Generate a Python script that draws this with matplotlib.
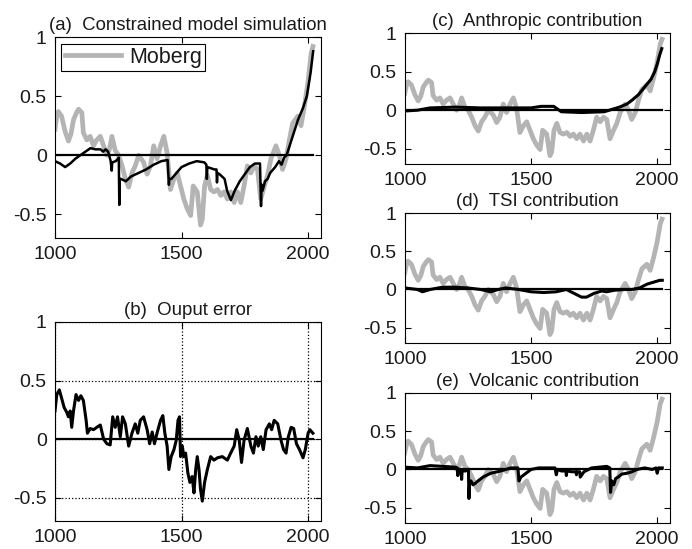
import numpy as np
import matplotlib
matplotlib.use('Agg')
import matplotlib.pyplot as plt

plt.rcParams['font.family'] = ['Liberation Sans', 'DejaVu Sans']

# Moberg reconstruction (grey)
mob_years = [1000, 1007, 1013, 1026, 1040, 1053, 1063, 1073, 1085, 1093, 1106, 1112,
             1126, 1139, 1152, 1165, 1179, 1192, 1205, 1215, 1225, 1238, 1251, 1265,
             1278, 1291, 1304, 1317, 1331, 1350, 1364, 1377, 1390, 1403, 1417, 1430,
             1443, 1456, 1470, 1483, 1496, 1509, 1522, 1536, 1546, 1562, 1575, 1582,
             1591, 1602, 1615, 1628, 1642, 1655, 1668, 1681, 1694, 1708, 1721, 1734,
             1747, 1760, 1774, 1787, 1800, 1813, 1827, 1840, 1853, 1873, 1886, 1899,
             1913, 1926, 1939, 1959, 1972, 1985, 1999, 2012, 2019]
mob_vals = [0.22, 0.33, 0.37, 0.33, 0.20, 0.12, 0.18, 0.30, 0.36, 0.39, 0.36, 0.19,
            0.13, 0.16, 0.08, 0.13, 0.16, 0.08, 0.00, 0.05, 0.16, 0.04, 0.00, -0.09,
            -0.20, -0.27, -0.15, -0.09, 0.00, -0.06, -0.16, -0.09, 0.08, -0.03, 0.08, 0.16,
            0.02, -0.29, -0.20, -0.15, -0.26, -0.37, -0.45, -0.51, -0.26, -0.31, -0.59, -0.54,
            -0.26, -0.17, -0.29, -0.31, -0.29, -0.34, -0.31, -0.37, -0.31, -0.40, -0.31, -0.40,
            -0.26, -0.09, -0.15, -0.09, -0.12, -0.37, -0.26, -0.17, -0.03, 0.08, 0.00, -0.12,
            -0.03, 0.13, 0.27, 0.33, 0.25, 0.41, 0.61, 0.86, 0.92]

# (a) constrained model simulation
sim_years = [1000, 1020, 1040, 1060, 1080, 1100, 1120, 1140, 1160, 1180, 1190, 1200,
             1210, 1220, 1224, 1226, 1240, 1252, 1254, 1256, 1260, 1280, 1300, 1330,
             1360, 1390, 1420, 1445, 1450, 1452, 1460, 1480, 1500, 1530, 1560, 1590,
             1598, 1600, 1602, 1630, 1638, 1640, 1642, 1650, 1670, 1680, 1695, 1710,
             1730, 1750, 1770, 1790, 1810, 1814, 1816, 1820, 1830, 1840, 1850, 1870,
             1885, 1895, 1905, 1915, 1930, 1945, 1960, 1980, 1995, 2010, 2020]
sim_vals = [-0.05, -0.07, -0.10, -0.07, -0.03, 0.00, 0.03, 0.06, 0.05, 0.05, 0.03, 0.05,
            0.03, -0.05, -0.13, -0.06, -0.05, -0.02, -0.42, -0.20, -0.20, -0.22, -0.18, -0.15,
            -0.12, -0.08, -0.05, -0.04, -0.25, -0.20, -0.20, -0.15, -0.10, -0.07, -0.05, -0.06,
            -0.08, -0.20, -0.10, -0.12, -0.12, -0.23, -0.15, -0.16, -0.20, -0.30, -0.38, -0.30,
            -0.22, -0.16, -0.10, -0.07, -0.07, -0.43, -0.25, -0.30, -0.22, -0.20, -0.15, -0.10,
            -0.05, -0.08, -0.02, 0.00, 0.10, 0.20, 0.30, 0.40, 0.50, 0.70, 0.88]

# (b) output error
err_years = [1000, 1007, 1017, 1026, 1036, 1046, 1053, 1060, 1066, 1073, 1083, 1093,
             1102, 1112, 1123, 1128, 1139, 1152, 1165, 1179, 1192, 1205, 1218, 1228,
             1238, 1247, 1258, 1267, 1278, 1291, 1304, 1317, 1327, 1337, 1350, 1364,
             1374, 1384, 1393, 1403, 1417, 1426, 1434, 1443, 1450, 1459, 1470, 1479,
             1486, 1492, 1496, 1503, 1509, 1516, 1525, 1533, 1542, 1549, 1556, 1562,
             1569, 1575, 1582, 1591, 1602, 1615, 1628, 1642, 1661, 1681, 1694, 1708,
             1718, 1728, 1737, 1747, 1760, 1774, 1784, 1794, 1803, 1813, 1823, 1834,
             1847, 1856, 1866, 1880, 1893, 1903, 1913, 1922, 1933, 1943, 1954, 1966,
             1980, 1989, 2000, 2007, 2019]
err_vals = [0.24, 0.38, 0.42, 0.35, 0.27, 0.23, 0.19, 0.24, 0.10, 0.24, 0.38, 0.33,
            0.37, 0.33, 0.16, 0.05, 0.09, 0.08, 0.10, 0.12, 0.00, -0.04, -0.05, 0.19,
            0.10, 0.19, 0.02, 0.19, 0.13, -0.06, 0.05, 0.13, 0.05, 0.16, 0.19, 0.08,
            -0.04, 0.06, -0.04, 0.05, 0.16, 0.20, 0.05, -0.06, -0.26, -0.15, -0.09, -0.01,
            0.16, 0.19, -0.15, -0.06, -0.15, -0.12, -0.29, -0.37, -0.32, -0.46, -0.26, -0.15,
            -0.26, -0.43, -0.53, -0.37, -0.26, -0.15, -0.18, -0.16, -0.15, -0.18, -0.12, -0.06,
            0.08, -0.01, -0.20, -0.01, 0.09, -0.06, -0.12, 0.02, -0.06, 0.02, -0.09, 0.08,
            0.13, 0.08, 0.16, 0.13, -0.01, -0.09, -0.12, 0.02, 0.10, 0.09, -0.04, -0.09,
            -0.16, -0.09, 0.05, 0.08, 0.05]

# (c) anthropic contribution
ant_years = [1000, 1050, 1100, 1200, 1300, 1400, 1500, 1540, 1590, 1620, 1700, 1790,
             1820, 1850, 1880, 1900, 1925, 1950, 1975, 1990, 2000, 2010, 2018]
ant_vals = [-0.01, 0.00, 0.03, 0.04, 0.03, 0.03, 0.03, 0.05, 0.05, -0.02, -0.03, -0.02,
            0.01, 0.04, 0.08, 0.13, 0.20, 0.30, 0.40, 0.50, 0.60, 0.72, 0.80]

# (d) TSI contribution
tsi_years = [1000, 1050, 1070, 1100, 1150, 1200, 1250, 1300, 1340, 1370, 1400, 1450,
             1500, 1550, 1600, 1640, 1670, 1700, 1720, 1750, 1780, 1800, 1830, 1870,
             1900, 1930, 1960, 1990, 2010, 2020]
tsi_vals = [0.02, 0.00, -0.03, 0.00, 0.03, 0.03, 0.02, 0.00, -0.03, 0.00, 0.02, 0.00,
            -0.03, -0.04, -0.03, 0.00, -0.05, -0.10, -0.10, -0.05, -0.02, -0.03, -0.01, 0.00,
            0.00, 0.02, 0.07, 0.10, 0.12, 0.12]

# (e) volcanic contribution
vol_years = [1000, 1050, 1100, 1150, 1200, 1208, 1210, 1212, 1223, 1225, 1227, 1240,
             1252, 1254, 1257, 1262, 1270, 1280, 1290, 1310, 1340, 1380, 1420, 1448,
             1452, 1460, 1480, 1500, 1530, 1595, 1600, 1605, 1620, 1638, 1640, 1642,
             1660, 1678, 1680, 1682, 1693, 1695, 1710, 1740, 1800, 1812, 1815, 1820,
             1828, 1835, 1845, 1860, 1880, 1900, 1920, 1950, 1980, 1995, 2000, 2005,
             2020]
vol_vals = [0.03, 0.02, 0.05, 0.04, 0.03, 0.02, -0.08, 0.00, 0.00, -0.13, -0.02, -0.02,
            0.00, -0.38, -0.15, -0.15, -0.20, -0.18, -0.15, -0.10, -0.05, -0.02, 0.02, 0.02,
            -0.15, -0.10, -0.05, 0.00, 0.02, 0.02, -0.07, 0.00, -0.02, -0.02, -0.08, -0.02,
            -0.03, -0.03, -0.07, -0.03, -0.03, -0.10, -0.03, 0.02, 0.04, 0.02, -0.30, -0.15,
            -0.20, -0.12, -0.10, -0.06, -0.05, -0.03, 0.00, 0.02, 0.00, 0.02, -0.05, 0.02,
            0.02]

grey = '#b4b4b4'
txt = '#1a1a1a'
xticks = [1000, 1500, 2000]
yticks = [-0.5, 0, 0.5, 1]
ytick_labels = ['-0.5', '0', '0.5', '1']


def style(ax, title):
    ax.set_xlim(1000, 2050)
    ax.set_ylim(-0.7, 1)
    ax.set_xticks(xticks)
    ax.set_yticks(yticks)
    ax.set_yticklabels(ytick_labels)
    ax.tick_params(direction='in', top=True, right=True, labelsize=14,
                   length=4, width=0.8, pad=6, labelcolor=txt)
    ax.set_title(title, fontsize=13.4, pad=5, color=txt)
    for s in ax.spines.values():
        s.set_linewidth(0.8)
    ax.plot([1000, 2020], [0, 0], color='k', lw=1.6, zorder=3)


fig = plt.figure(figsize=(6.92, 5.49), dpi=100)

ax_a = fig.add_axes([0.0795, 0.5665, 0.384, 0.366])
ax_b = fig.add_axes([0.0795, 0.051, 0.384, 0.3625])
ax_c = fig.add_axes([0.585, 0.701, 0.383, 0.2386])
ax_d = fig.add_axes([0.585, 0.3752, 0.383, 0.2368])
ax_e = fig.add_axes([0.585, 0.0474, 0.383, 0.2368])

# (a)
style(ax_a, '(a)  Constrained model simulation')
ax_a.plot(mob_years, mob_vals, color=grey, lw=3.4, label='Moberg', zorder=1)
ax_a.plot(sim_years, sim_vals, color='k', lw=1.8, zorder=4)
leg = ax_a.legend(loc='upper left', fontsize=15.5, fancybox=False, framealpha=1,
                  edgecolor='k', handlelength=2.6, borderaxespad=0.3,
                  borderpad=0.15, handletextpad=0.4, labelcolor=txt)
leg.get_frame().set_linewidth(0.8)

# (b)
style(ax_b, '(b)  Ouput error')
ax_b.grid(True, linestyle=':', color='k', lw=0.9)
ax_b.plot(err_years, err_vals, color='k', lw=2.2, zorder=4)

# (c), (d), (e)
for ax, title, yrs, vals in [(ax_c, '(c)  Anthropic contribution', ant_years, ant_vals),
                             (ax_d, '(d)  TSI contribution', tsi_years, tsi_vals),
                             (ax_e, '(e)  Volcanic contribution', vol_years, vol_vals)]:
    style(ax, title)
    ax.plot(mob_years, mob_vals, color=grey, lw=3.4, zorder=1)
    ax.plot(yrs, vals, color='k', lw=2.2, zorder=4)

fig.savefig('out.png', dpi=100)
